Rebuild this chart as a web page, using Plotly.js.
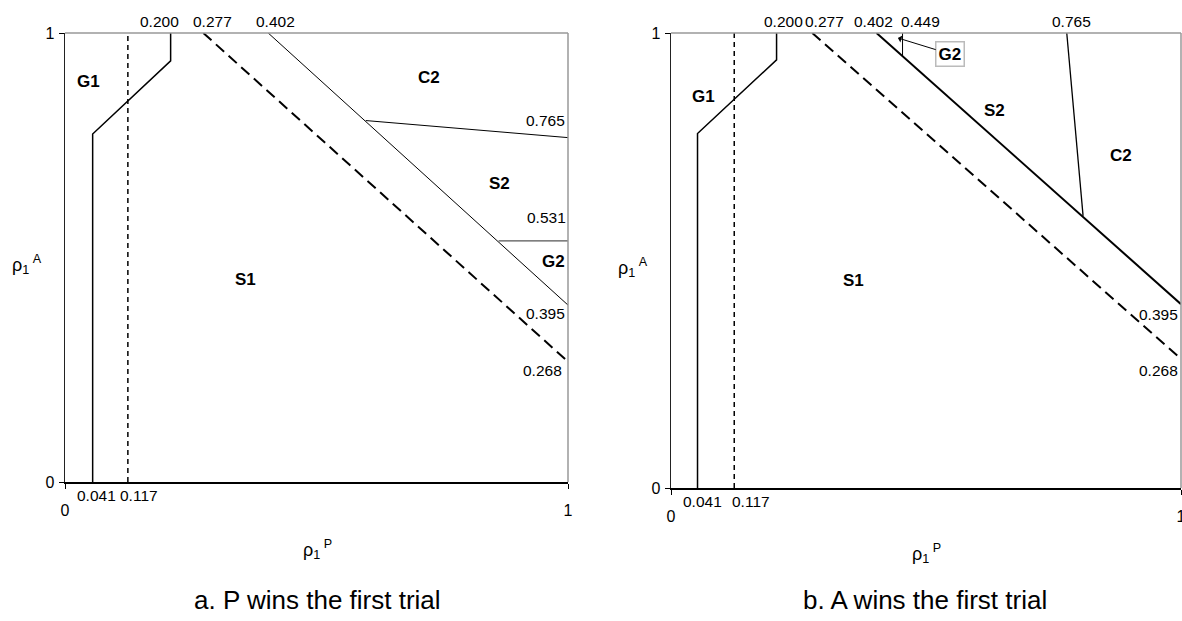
<!DOCTYPE html>
<html>
<head>
<meta charset="utf-8">
<script src="https://cdn.plot.ly/plotly-3.0.1.min.js"></script>
<style>html,body{margin:0;padding:0;background:#fff}#chart{width:1182px;height:621px}</style>
</head>
<body>
<div id="chart"></div>
<script>
// ---------- Panel a: P wins the first trial ----------
const aG1X = [0.055, 0.055, 0.21, 0.21];
const aG1Y = [0, 0.775, 0.938, 1];
const aShortDashX = [0.125, 0.125];
const aShortDashY = [0, 1];
const aLongDashX = [0.275, 1];
const aLongDashY = [1, 0.268];
const aDiagX = [0.404, 1];
const aDiagY = [1, 0.394];
const a765X = [0.598, 1];
const a765Y = [0.805, 0.767];
const a531X = [0.862, 1];
const a531Y = [0.537, 0.537];
const aTopLabels = ["0.200", "0.277", "0.402"];
const aBottomLabels = ["0.041", "0.117"];
const aRightLabels = ["0.765", "0.531", "0.395", "0.268"];
const aRegions = ["G1", "C2", "S2", "G2", "S1"];

// ---------- Panel b: A wins the first trial ----------
const bG1X = [0.052, 0.052, 0.207, 0.207];
const bG1Y = [0, 0.779, 0.941, 1];
const bShortDashX = [0.124, 0.124];
const bShortDashY = [0, 1];
const bLongDashX = [0.277, 1];
const bLongDashY = [1, 0.284];
const bDiagX = [0.403, 1];
const bDiagY = [1, 0.404];
const b765X = [0.776, 0.808];
const b765Y = [1, 0.598];
const bG2X = [0.454, 0.454];
const bG2Y = [1, 0.949];
const bTopLabels = ["0.200", "0.277", "0.402", "0.449", "0.765"];
const bBottomLabels = ["0.041", "0.117"];
const bRightLabels = ["0.395", "0.268"];
const bRegions = ["G1", "S2", "C2", "S1"];

const tickVals = [0, 1];
const tickText = ["0", "1"];
const captions = ["a. P wins the first trial", "b. A wins the first trial"];
const xTitle = "ρ<sub>1</sub><sup> P</sup>";
const yTitle = "ρ<sub>1</sub><sup> A</sup>";

const FONT = '"Liberation Sans", Arial, sans-serif';
const NUM = 15.5;

function ln(x, y, xa, ya, w, dash, color) {
  return {x: x, y: y, xaxis: xa, yaxis: ya, type: 'scatter', mode: 'lines',
    line: {color: color || '#000', width: w, dash: dash || 'solid'},
    hoverinfo: 'skip', showlegend: false, cliponaxis: false};
}

const traces = [
  ln(aG1X, aG1Y, 'x', 'y', 1.5),
  ln(aShortDashX, aShortDashY, 'x', 'y', 1.5, '5px,4px'),
  ln(aLongDashX, aLongDashY, 'x', 'y', 2, '11px,6px'),
  ln(aDiagX, aDiagY, 'x', 'y', 1),
  ln(a765X, a765Y, 'x', 'y', 1),
  ln(a531X, a531Y, 'x', 'y', 1.2, null, '#555'),
  ln(bG1X, bG1Y, 'x2', 'y2', 1.5),
  ln(bShortDashX, bShortDashY, 'x2', 'y2', 1.5, '5px,4px'),
  ln(bLongDashX, bLongDashY, 'x2', 'y2', 2, '11px,6px'),
  ln(bDiagX, bDiagY, 'x2', 'y2', 2),
  ln(b765X, b765Y, 'x2', 'y2', 1.3),
  ln(bG2X, bG2Y, 'x2', 'y2', 1)
];

const ann = [];
function txt(text, x, y, xref, yref, size, bold, yshift) {
  ann.push({text: bold ? '<b>' + text + '</b>' : text, x: x, y: y, xref: xref, yref: yref,
    showarrow: false, xanchor: 'center', yanchor: 'middle', yshift: yshift || 0,
    font: {size: size, color: '#000', family: FONT}});
}
// panel a annotations (label positions)
const aTopPos = [0.187, 0.294, 0.419];
aTopLabels.forEach((t, i) => txt(t, aTopPos[i], 1, 'x', 'y', NUM, false, 12));
const aBotPos = [0.062, 0.147];
aBottomLabels.forEach((t, i) => txt(t, aBotPos[i], 0, 'x', 'y', NUM, false, -13));
const aRightPos = [[0.955, 0.806], [0.957, 0.59], [0.955, 0.376], [0.95, 0.249]];
aRightLabels.forEach((t, i) => txt(t, aRightPos[i][0], aRightPos[i][1], 'x', 'y', NUM));
const aRegPos = [[0.046, 0.891], [0.724, 0.9], [0.863, 0.664], [0.972, 0.49], [0.358, 0.45]];
aRegions.forEach((t, i) => txt(t, aRegPos[i][0], aRegPos[i][1], 'x', 'y', 17, true));

// panel b annotations
const bTopPos = [0.221, 0.300, 0.397, 0.490, 0.786];
bTopLabels.forEach((t, i) => txt(t, bTopPos[i], 1, 'x2', 'y2', NUM, false, 12));
const bBotPos = [0.061, 0.156];
bBottomLabels.forEach((t, i) => txt(t, bBotPos[i], 0, 'x2', 'y2', NUM, false, -13));
const bRightPos = [[0.955, 0.382], [0.955, 0.258]];
bRightLabels.forEach((t, i) => txt(t, bRightPos[i][0], bRightPos[i][1], 'x2', 'y2', NUM));
const bRegPos = [[0.063, 0.86], [0.635, 0.83], [0.882, 0.73], [0.357, 0.455]];
bRegions.forEach((t, i) => txt(t, bRegPos[i][0], bRegPos[i][1], 'x2', 'y2', 17, true));

// G2 callout with arrow
ann.push({text: '<b>G2</b>', x: 0.445, y: 0.989, xref: 'x2', yref: 'y2',
  showarrow: true, arrowhead: 1, arrowsize: 1.2, arrowwidth: 1, arrowcolor: '#000',
  ax: 52, ay: 16, bordercolor: '#bbb', borderwidth: 1.5, borderpad: 2, bgcolor: '#fff',
  font: {size: 17, color: '#000', family: FONT}});

// axis titles (horizontal) and captions, given in page pixels
function ptxt(text, px, py, size) {
  txt(text, px / 1182, 1 - py / 621, 'paper', 'paper', size, false);
}
ptxt(yTitle, 27, 264, 18);
ptxt(xTitle, 318, 549, 18);
ptxt(yTitle, 633, 268, 18);
ptxt(xTitle, 926, 553, 18);
ptxt(captions[0], 317, 600, 26);
ptxt(captions[1], 925, 600, 26);

function xax(domain) {
  return {domain: domain, range: [0, 1], showgrid: false, zeroline: false, showline: true,
    linecolor: '#000', linewidth: 1.5, ticks: 'outside', ticklen: 5, tickcolor: '#000',
    tickvals: tickVals, ticktext: tickText, ticklabelstandoff: 8, ticklabeloverflow: 'allow',
    tickfont: {size: 16, family: FONT, color: '#000'}, fixedrange: true};
}
function yax(domain) {
  return {domain: domain, range: [0, 1], showgrid: false, zeroline: false, showline: true,
    linecolor: '#222', linewidth: 1.5, ticks: 'outside', ticklen: 5, tickcolor: '#000',
    tickvals: tickVals, ticktext: tickText, ticklabelstandoff: 1, ticklabeloverflow: 'allow',
    tickfont: {size: 16, family: FONT, color: '#000'}, fixedrange: true};
}

const frame = (xr, yr) => [
  {type: 'line', xref: xr + ' domain', yref: yr + ' domain', x0: 0, x1: 1, y0: 1, y1: 1,
   line: {color: '#999', width: 1.5}},
  {type: 'line', xref: xr + ' domain', yref: yr + ' domain', x0: 1, x1: 1, y0: 0, y1: 1,
   line: {color: '#999', width: 1.5}}
];

const layout = {
  width: 1182, height: 621,
  margin: {l: 0, r: 0, t: 0, b: 0},
  paper_bgcolor: '#fff', plot_bgcolor: '#fff',
  showlegend: false,
  xaxis: Object.assign(xax([65 / 1182, 568 / 1182]), {anchor: 'y'}),
  yaxis: Object.assign(yax([(621 - 482) / 621, (621 - 33) / 621]), {anchor: 'x'}),
  xaxis2: Object.assign(xax([671 / 1182, 1181 / 1182]), {anchor: 'y2'}),
  yaxis2: Object.assign(yax([(621 - 488) / 621, (621 - 33) / 621]), {anchor: 'x2'}),
  shapes: frame('x', 'y').concat(frame('x2', 'y2')),
  annotations: ann
};

Plotly.newPlot('chart', traces, layout, {displayModeBar: false, staticPlot: true});
</script>
</body>
</html>
